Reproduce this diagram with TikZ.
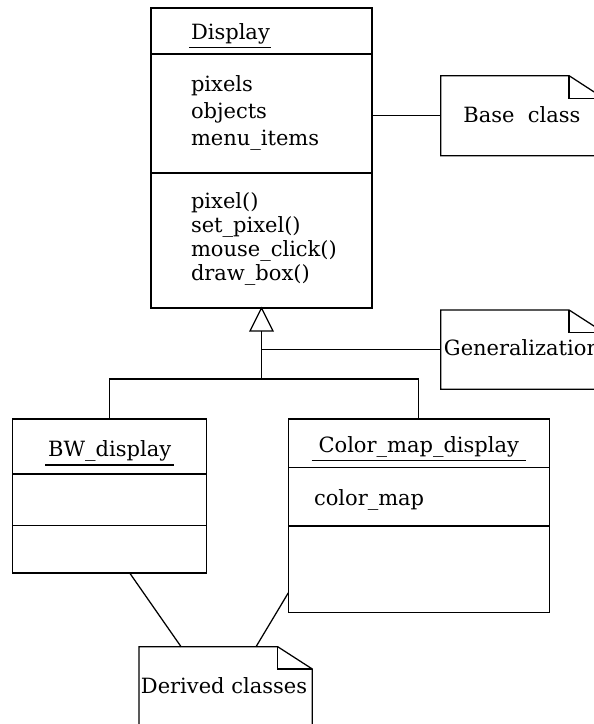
\documentclass[tikz,border=0pt]{standalone}
\usepackage{fontspec}
\setmainfont{DejaVu Serif}
\usetikzlibrary{calc}
\newcommand\dognote[3]{% name, fold width, fold height
  \draw (#1.north west) -- ($(#1.north east)+(-#2,0)$) -- ($(#1.north east)+(0,#3)$)
        -- (#1.south east) -- (#1.south west) -- cycle;
  \draw ($(#1.north east)+(-#2,0)$) -- ($(#1.north east)+(-#2,#3)$) -- ($(#1.north east)+(0,#3)$);
}
\begin{document}
\begin{tikzpicture}[x=1pt,y=-1pt,
  line width=1.25pt,
  every node/.style={inner sep=0pt, outer sep=0pt, font=\fontsize{21}{24}\selectfont},
  classbox/.style={draw, anchor=north west},
  notebox/.style={anchor=north west},
  txt/.style={anchor=base west},
  ctxt/.style={anchor=base},
]
\useasboundingbox (0,0) rectangle (594,724);
\clip (0,0) rectangle (594,724);
\fill[white] (0,0) rectangle (594,724);

% ---- Display class
\node[classbox, minimum width=221pt, minimum height=300pt] (display) at (151,8) {};
\draw ($(display.north west)+(0,46)$) -- ($(display.north east)+(0,46)$);
\draw ($(display.north west)+(0,165)$) -- ($(display.north east)+(0,165)$);
\node[txt] (dname) at (191,39) {Display};
\draw ($(dname.base west)+(-2,8.5)$) -- ($(dname.base east)+(1,8.5)$);
\node[txt] (a1) at (191,91) {pixels};
\node[txt] (a2) at (191,118) {objects};
\node[txt] (a3) at (191,145) {menu\_items};
\node[txt] (m1) at (191,208) {pixel()};
\node[txt] (m2) at (191,232) {set\_pixel()};
\node[txt] (m3) at (191,256) {mouse\_click()};
\node[txt] (m4) at (191,280) {draw\_box()};

% ---- BW_display class
\node[classbox, minimum width=194pt, minimum height=154pt] (bw) at (12.7,419) {};
\draw ($(bw.north west)+(0,55)$) -- ($(bw.north east)+(0,55)$);
\draw ($(bw.north west)+(0,106.7)$) -- ($(bw.north east)+(0,106.7)$);
\node[ctxt] (bwname) at (109.7,456) {BW\_display};
\draw ($(bwname.base west)+(-3,9)$) -- ($(bwname.base east)+(3,9)$);

% ---- Color_map_display class
\node[classbox, minimum width=261pt, minimum height=193.7pt] (cmap) at (288.3,419) {};
\draw ($(cmap.north west)+(0,48.3)$) -- ($(cmap.north east)+(0,48.3)$);
\draw ($(cmap.north west)+(0,107)$) -- ($(cmap.north east)+(0,107)$);
\node[ctxt] (cmname) at (418.8,452) {Color\_map\_display};
\draw ($(cmname.base west)+(-7,8.5)$) -- ($(cmname.base east)+(7,8.5)$);
\node[txt] (cmattr) at (314,505) {color\_map};

% ---- Notes
\node[notebox, minimum width=163pt, minimum height=80pt] (basenote) at (440.7,75.7) {};
\dognote{basenote}{34.6}{22.5}
\node[ctxt] (basetext) at (522,122) {Base~ class};

\node[notebox, minimum width=163pt, minimum height=79.3pt] (gennote) at (440.7,310) {};
\dognote{gennote}{34.6}{22.3}
\node[ctxt] (gentext) at (522,355) {Generalization};

\node[notebox, minimum width=173.3pt, minimum height=90pt] (dnote) at (139,646.7) {};
\dognote{dnote}{34.6}{22.3}
\node[ctxt] (dtext) at (224,693) {Derived classes};

% ---- Generalization arrow
\coordinate (apex) at (display.south);
\draw (apex) -- ++(-11.5,23) -- ++(23,0) -- cycle;
\coordinate (tribase) at ($(apex)+(0,23)$);
\coordinate (junc) at ($(apex)+(0,71)$);
\draw (tribase) -- (junc);
\draw (bw.north) |- (junc) -| (cmap.north);
\draw (tribase |- gennote.west) -- (gennote.west);

% ---- Note connectors
\draw (display.east |- basenote.west) -- (basenote.west);
\draw ([xshift=20pt]bw.south) -- ([xshift=-44.6pt]dnote.north);
\draw ([yshift=-77pt]cmap.west) -- ([xshift=30.4pt]dnote.north);
\end{tikzpicture}
\end{document}
